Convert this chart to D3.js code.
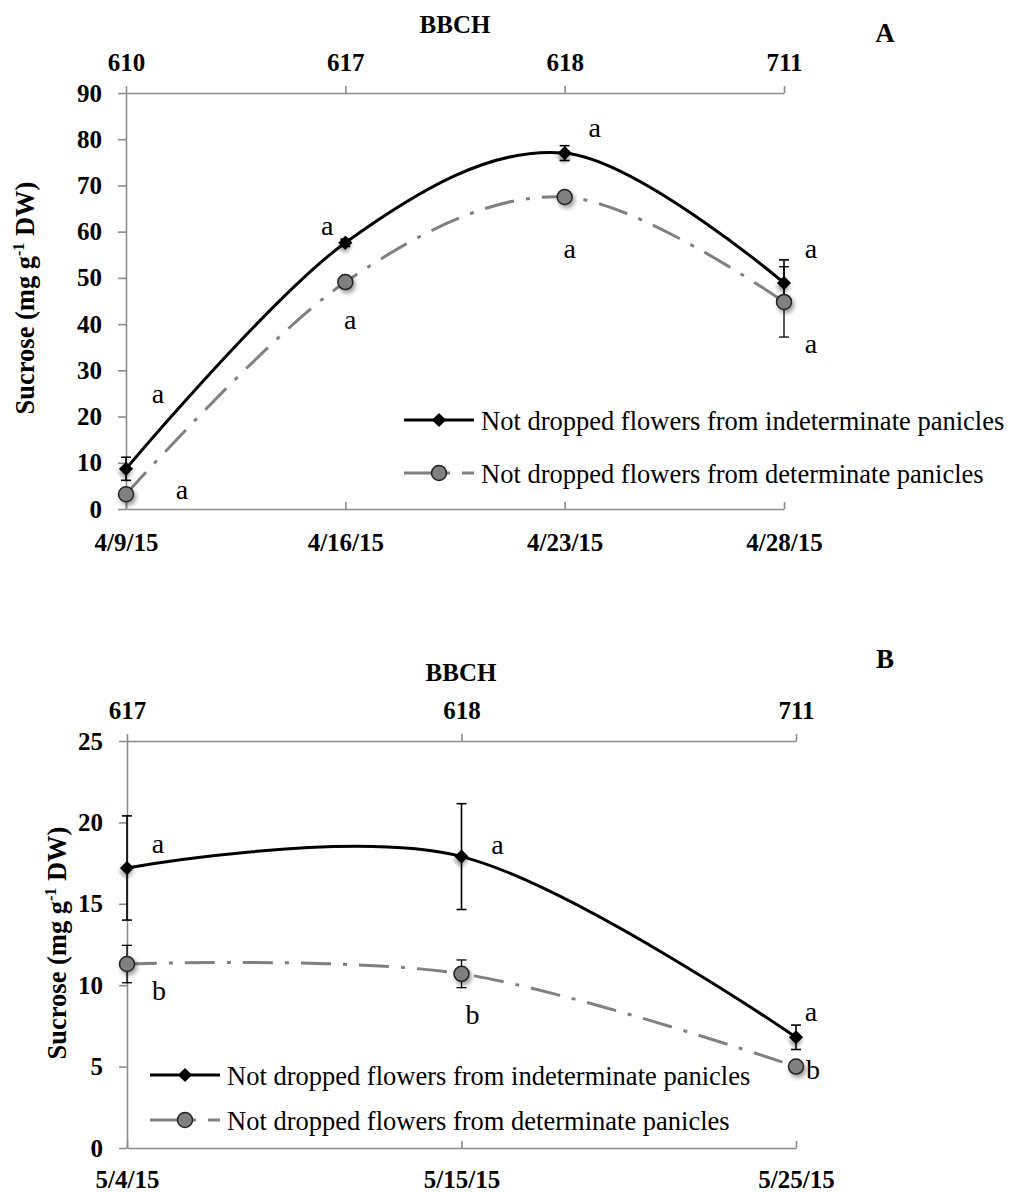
<!DOCTYPE html>
<html><head><meta charset="utf-8">
<script src="https://cdn.jsdelivr.net/npm/d3@7"></script>
<style>
body{margin:0;background:#fff;}
svg, svg text{font-family:"Liberation Serif","Times New Roman",serif;}
</style>
</head><body>
<svg id="c" width="1010" height="1192" font-family="Liberation Serif"></svg>
<script>
// ---------- DATA ----------
const seriesNames = ["Not dropped flowers from indeterminate panicles",
                     "Not dropped flowers from determinate panicles"];
// Panel A
const datesA = ["4/9/15","4/16/15","4/23/15","4/28/15"];
const bbchA = ["610","617","618","711"];
const yTicksA = [0,10,20,30,40,50,60,70,80,90];
const indetA = [8.7, 57.6, 77.0, 48.9];
const indetErrA = [2.5, 0.8, 1.6, 5.0];
const detA = [3.2, 49.1, 67.5, 44.8];
const detErrA = [0.6, 0.8, 0.8, 7.6];
const lettersIndetA = ["a","a","a","a"];
const lettersDetA = ["a","a","a","a"];
// Panel B
const datesB = ["5/4/15","5/15/15","5/25/15"];
const bbchB = ["617","618","711"];
const yTicksB = [0,5,10,15,20,25];
const indetB = [17.2, 17.9, 6.8];
const indetErrB = [3.2, 3.25, 0.75];
const detB = [11.3, 10.7, 5.0];
const detErrB = [1.15, 0.85, 0.3];
const lettersIndetB = ["a","a","a"];
const lettersDetB = ["b","b","b"];

// ---------- DRAW ----------
const FONT = "Liberation Serif";
const svg = d3.select("#c");
const defs = svg.append("defs");
defs.append("filter").attr("id","sh").attr("x","-50%").attr("y","-50%").attr("width","200%").attr("height","200%")
  .append("feDropShadow").attr("dx",2).attr("dy",3).attr("stdDeviation",2)
  .attr("flood-color","#000").attr("flood-opacity",0.4);

const AX = "#8c8c8c";
const DASH = "30,12,4,12";
const diamond = d3.symbol(d3.symbolSquare, 100);

function txt(sel){ return sel.append("text").attr("font-family",FONT).attr("fill","#000"); }

function panel(o){
  const g = svg.append("g");
  const x = d3.scalePoint().domain(o.dates).range([o.x0, o.x1]);
  const xt = d3.scalePoint().domain(o.bbch).range([o.x0, o.x1]);
  const y = d3.scaleLinear().domain([0, o.yMax]).range([o.yB, o.yT]);

  const ya = g.append("g").attr("transform",`translate(${o.x0},0)`)
    .call(d3.axisLeft(y).tickValues(o.yTicks).tickSize(8).tickSizeOuter(0).tickPadding(16));
  const ta = g.append("g").attr("transform",`translate(0,${o.yT})`)
    .call(d3.axisTop(xt).tickSize(7).tickSizeOuter(0));
  const ba = g.append("g").attr("transform",`translate(0,${o.yB})`)
    .call(d3.axisBottom(x).tickSize(-7).tickSizeOuter(0));
  [ya,ta,ba].forEach(a=>{
    a.attr("font-family",FONT);
    a.select(".domain").attr("stroke",AX).attr("stroke-width",1.6);
    a.selectAll(".tick line").attr("stroke",AX).attr("stroke-width",1.6);
    a.selectAll("text").attr("fill","#000").attr("font-family",FONT)
      .attr("font-weight","bold").attr("font-size",25);
  });
  ta.selectAll("text").attr("y",-22).attr("dy",null);
  ba.selectAll("text").attr("y",o.botLab).attr("dy",null);

  txt(g).attr("x",o.bbchX).attr("y",o.bbchY).attr("text-anchor","middle")
    .attr("font-weight","bold").attr("font-size",25).text("BBCH");
  txt(g).attr("x",o.panX).attr("y",o.panY).attr("text-anchor","middle")
    .attr("font-weight","bold").attr("font-size",27).text(o.panel);
  const yl = txt(g).attr("transform",`translate(${o.ylX},${o.ylY}) rotate(-90)`)
    .attr("text-anchor","middle").attr("font-weight","bold").attr("font-size",26.5);
  yl.append("tspan").text("Sucrose (mg g");
  yl.append("tspan").attr("font-size",16).attr("dy",-10).text("-1");
  yl.append("tspan").attr("dy",10).text(" DW)");

  const line = d3.line().x((d,i)=>x(o.dates[i])).y(d=>y(d)).curve(d3.curveCardinal.tension(0));

  g.append("path").attr("d",line(o.det)).attr("fill","none").attr("stroke","#808080")
    .attr("stroke-width",3).attr("stroke-dasharray",DASH);
  g.append("path").attr("d",line(o.indet)).attr("fill","none").attr("stroke","#000")
    .attr("stroke-width",3);

  function errs(vals, err, w){
    vals.forEach((v,i)=>{
      const cx = x(o.dates[i]), y1 = y(v+err[i]), y2 = y(v-err[i]);
      const eg = g.append("g").attr("stroke","#000").attr("stroke-width",w);
      eg.append("line").attr("x1",cx).attr("x2",cx).attr("y1",y1).attr("y2",y2);
      eg.append("line").attr("x1",cx-5).attr("x2",cx+5).attr("y1",y1).attr("y2",y1);
      eg.append("line").attr("x1",cx-5).attr("x2",cx+5).attr("y1",y2).attr("y2",y2);
    });
  }
  errs(o.det, o.detErr, 1.3);
  errs(o.indet, o.indetErr, 1.6);

  o.det.forEach((v,i)=>{
    g.append("circle").attr("cx",x(o.dates[i])).attr("cy",y(v)).attr("r",7.5)
      .attr("fill","#808080").attr("stroke","#222").attr("stroke-width",1.5).attr("filter","url(#sh)");
  });
  o.indet.forEach((v,i)=>{
    g.append("path").attr("d",diamond())
      .attr("transform",`translate(${x(o.dates[i])},${y(v)}) rotate(45)`)
      .attr("fill","#000").attr("filter","url(#sh)");
  });

  function letters(vals, lets, offs){
    vals.forEach((v,i)=>{
      const L = lets[i];
      txt(g).attr("x",x(o.dates[i])+offs[i][0])
        .attr("y",y(v)+offs[i][1]+(L==="b"?9:6))
        .attr("text-anchor","middle").attr("font-size",28).text(L);
    });
  }
  letters(o.indet, o.lettersI, o.offI);
  letters(o.det, o.lettersD, o.offD);

  const lg = g.append("g").attr("transform",`translate(${o.legX},${o.legY})`);
  const gap = o.legGap;
  lg.append("line").attr("x1",0).attr("x2",70).attr("y1",0).attr("y2",0).attr("stroke","#000").attr("stroke-width",3);
  lg.append("path").attr("d",diamond()).attr("transform","translate(35,0) rotate(45)").attr("fill","#000");
  txt(lg).attr("x",77).attr("y",10).attr("font-size",26.5).text(seriesNames[0]);
  lg.append("line").attr("x1",0).attr("x2",70).attr("y1",gap).attr("y2",gap).attr("stroke","#808080")
    .attr("stroke-width",3).attr("stroke-dasharray",DASH);
  lg.append("circle").attr("cx",35).attr("cy",gap).attr("r",7.5).attr("fill","#808080")
    .attr("stroke","#222").attr("stroke-width",1.5);
  txt(lg).attr("x",77).attr("y",gap+10).attr("font-size",26.5).text(seriesNames[1]);
}

panel({panel:"A", dates:datesA, bbch:bbchA, yTicks:yTicksA, yMax:90,
  indet:indetA, indetErr:indetErrA, det:detA, detErr:detErrA,
  lettersI:lettersIndetA, lettersD:lettersDetA,
  x0:126, x1:784, yT:93, yB:509, botLab:42,
  bbchX:455, bbchY:33, panX:885, panY:42, ylX:34, ylY:298,
  offI:[[32,-72],[-18,-14],[30,-22],[27,-31]],
  offD:[[56,-1],[5,41],[5,55],[27,45]],
  legX:404, legY:420, legGap:53});

panel({panel:"B", dates:datesB, bbch:bbchB, yTicks:yTicksB, yMax:25,
  indet:indetB, indetErr:indetErrB, det:detB, detErr:detErrB,
  lettersI:lettersIndetB, lettersD:lettersDetB,
  x0:127, x1:796, yT:741, yB:1148, botLab:40,
  bbchX:461, bbchY:681, panX:885, panY:668, ylX:66, ylY:943,
  offI:[[31,-21],[36,-9],[15,-22]],
  offD:[[32,27],[11,41],[17,3]],
  legX:150, legY:1075, legGap:45});
</script>
</body></html>
